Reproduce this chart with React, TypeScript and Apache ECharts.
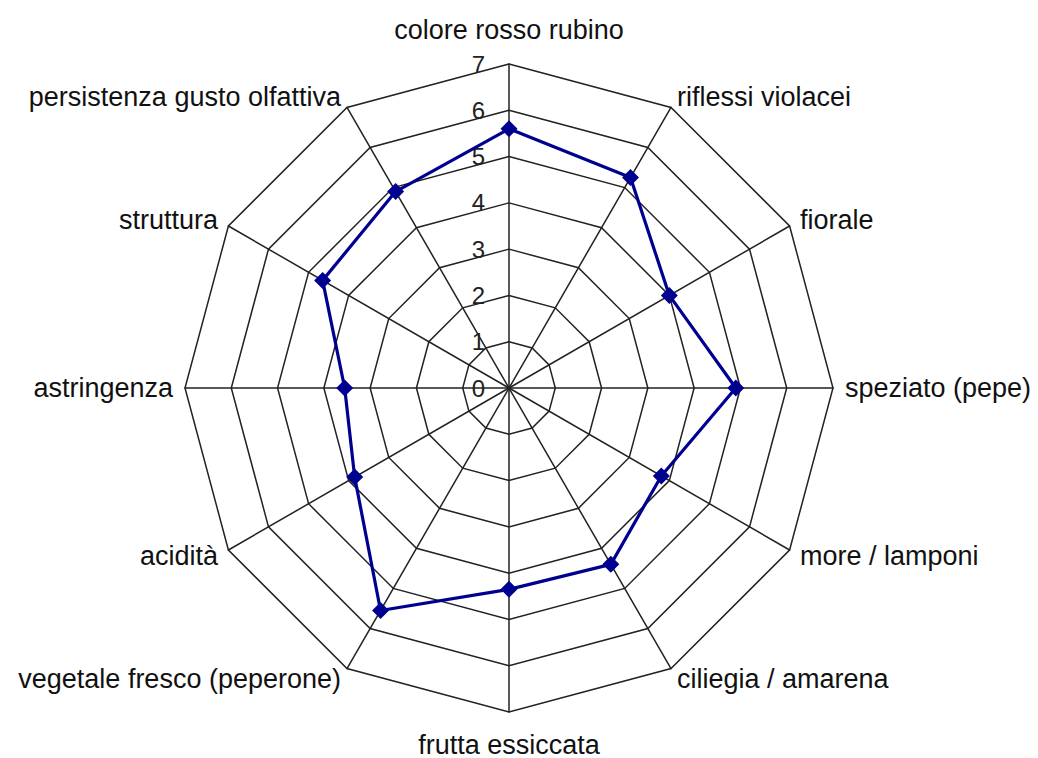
import React, { useEffect, useRef } from "react";
import * as echarts from "echarts";

// Categories in clockwise order starting from the top
const categories = [
  "colore rosso rubino",
  "riflessi violacei",
  "fiorale",
  "speziato (pepe)",
  "more / lamponi",
  "ciliegia / amarena",
  "frutta essiccata",
  "vegetale fresco (peperone)",
  "acidità",
  "astringenza",
  "struttura",
  "persistenza gusto olfattiva",
];

const values = [5.6, 5.25, 4.0, 4.9, 3.8, 4.4, 4.35, 5.55, 3.85, 3.55, 4.65, 4.9];

const axisMax = 7;
const splitCount = 7;

export default function App() {
  const ref = useRef<HTMLDivElement>(null);

  useEffect(() => {
    if (!ref.current) return;
    const chart = echarts.init(ref.current, undefined, { renderer: "svg" });

    // ECharts places indicators counter-clockwise; reorder so the chart reads clockwise
    const order = [0, ...categories.map((_, i) => i).slice(1).reverse()];
    const indicator = order.map((i, k) => {
      const base: any = { name: categories[i], min: 0, max: axisMax };
      if (k === 0) {
        base.nameGap = 21;
        base.axisLabel = {
          show: true,
          color: "#222",
          fontSize: 24,
          fontFamily: "Liberation Sans, Arial, sans-serif",
          margin: 24,
        };
      }
      if (i === 6) base.nameGap = 19;
      return base;
    });
    const data = order.map((i) => values[i]);

    chart.setOption({
      animation: false,
      backgroundColor: "#ffffff",
      radar: {
        center: [509, 388],
        radius: 324,
        startAngle: 90,
        splitNumber: splitCount,
        shape: "polygon",
        nameGap: 12,
        axisName: {
          color: "#111",
          fontSize: 27,
          fontFamily: "Liberation Sans, Arial, sans-serif",
        },
        axisLabel: { show: false },
        axisTick: { show: false },
        axisLine: { lineStyle: { color: "#222", width: 1.5 } },
        splitLine: { lineStyle: { color: "#222", width: 1.5 } },
        splitArea: { show: false },
        indicator,
      },
      series: [
        {
          type: "radar",
          symbol: "diamond",
          symbolSize: 17,
          lineStyle: { color: "#000090", width: 3.2 },
          itemStyle: { color: "#000090" },
          data: [{ value: data, name: "valutazione" }],
        },
      ],
    });

    return () => chart.dispose();
  }, []);

  return (
    <div
      ref={ref}
      style={{ position: "absolute", left: 0, top: 0, width: 1038, height: 758 }}
    />
  );
}
